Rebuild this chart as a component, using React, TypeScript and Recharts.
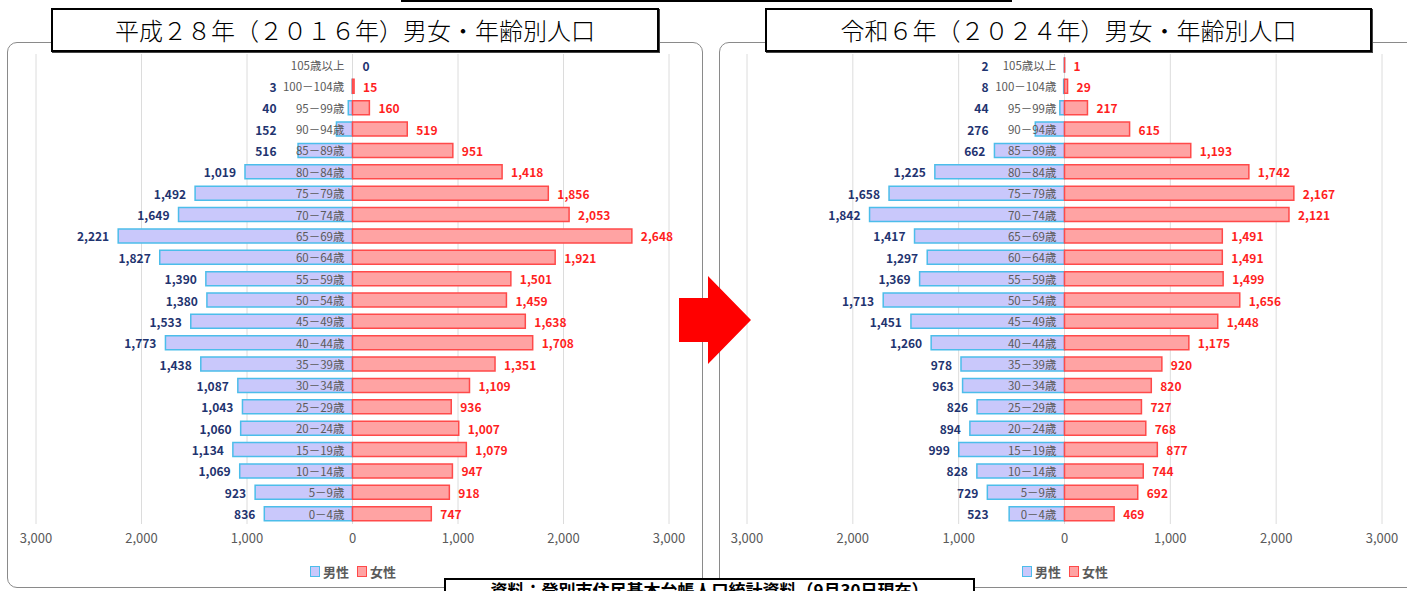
import { Bar, BarChart, CartesianGrid, Cell, LabelList, XAxis, YAxis } from "recharts"

const ages = [
  "105歳以上", "100－104歳", "95－99歳", "90－94歳", "85－89歳", "80－84歳",
  "75－79歳", "70－74歳", "65－69歳", "60－64歳", "55－59歳", "50－54歳",
  "45－49歳", "40－44歳", "35－39歳", "30－34歳", "25－29歳", "20－24歳",
  "15－19歳", "10－14歳", "5－9歳", "0－4歳",
]

const male2016 = [0, 3, 40, 152, 516, 1019, 1492, 1649, 2221, 1827, 1390, 1380, 1533, 1773, 1438, 1087, 1043, 1060, 1134, 1069, 923, 836]
const female2016 = [0, 15, 160, 519, 951, 1418, 1856, 2053, 2648, 1921, 1501, 1459, 1638, 1708, 1351, 1109, 936, 1007, 1079, 947, 918, 747]

const male2024 = [2, 8, 44, 276, 662, 1225, 1658, 1842, 1417, 1297, 1369, 1713, 1451, 1260, 978, 963, 826, 894, 999, 828, 729, 523]
const female2024 = [1, 29, 217, 615, 1193, 1742, 2167, 2121, 1491, 1491, 1499, 1656, 1448, 1175, 920, 820, 727, 768, 877, 744, 692, 469]

const xTicks = [-3000, -2000, -1000, 0, 1000, 2000, 3000]

const FONT = '"Noto Sans CJK JP", "Noto Sans", sans-serif'
const MALE_FILL = "#c9c8fb"
const MALE_STROKE = "#4cbdea"
const FEMALE_FILL = "#ffa3a3"
const FEMALE_STROKE = "#ff4a4a"

function box(p: any) {
  const vb = p.viewBox ?? p
  const l = Math.min(vb.x, vb.x + vb.width)
  const r = Math.max(vb.x, vb.x + vb.width)
  return { l, r, cy: vb.y + vb.height / 2 }
}

const AgeLabel = (p: any) => {
  const { l, r, cy } = box(p)
  // zero-size bars get a tiny positive width, so the zero line is at l for them
  const zero = r - l < 0.5 ? l : r
  return (
    <text x={zero - 8} y={cy} dominantBaseline="central" textAnchor="end" fontSize={11.5} fill="#5a5a5a" fontFamily={FONT}>
      {p.value}
    </text>
  )
}

const MaleValue = (p: any) => {
  const { l, r, cy } = box(p)
  const v = Number(p.value)
  if (v === 0) {
    return (
      <text x={l + 10} y={cy} dominantBaseline="central" fontSize={12} fontWeight={700} fill="#1f3470" fontFamily={FONT}>
        0
      </text>
    )
  }
  return (
    <text x={Math.min(l - 9, r - 76)} y={cy} dominantBaseline="central" textAnchor="end" fontSize={12} fontWeight={700} fill="#1f3470" fontFamily={FONT}>
      {v.toLocaleString("en-US")}
    </text>
  )
}

const FemaleValue = (p: any) => {
  const { r, cy } = box(p)
  const v = Number(p.value)
  if (v === 0) return null
  return (
    <text x={r + 9} y={cy} dominantBaseline="central" fontSize={12} fontWeight={700} fill="#ff1f1f" fontFamily={FONT}>
      {v.toLocaleString("en-US")}
    </text>
  )
}

function Pyramid({ male, female, left, rightMargin }: { male: number[]; female: number[]; left: number; rightMargin: number }) {
  const rows = ages.map((age, i) => ({
    age,
    male: -male[i],
    maleAbs: male[i],
    female: female[i],
  }))

  return (
    <div style={{ position: "absolute", left, top: 0 }}>
      <BarChart
        width={700}
        height={560}
        data={rows}
        layout="vertical"
        stackOffset="sign"
        barSize={14}
        margin={{ top: 54, right: rightMargin, bottom: 6, left: 36 }}
      >
        <CartesianGrid horizontal={false} stroke="#dcdcdc" />
        <XAxis
          type="number"
          domain={[-3000, 3000]}
          ticks={xTicks}
          interval={0}
          height={30}
          axisLine={false}
          tickLine={false}
          tick={{ fill: "#5a5a5a", fontSize: 13, fontFamily: FONT, dy: 2 }}
          tickFormatter={(v) => Math.abs(v).toLocaleString("en-US")}
        />
        <YAxis type="category" dataKey="age" hide width={0} />
        <Bar dataKey="male" stackId="a" fill={MALE_FILL} stroke={MALE_STROKE} strokeWidth={1.5} minPointSize={0.1} isAnimationActive={false}>
          {rows.map((r, i) => (
            <Cell key={i} fillOpacity={r.maleAbs === 0 ? 0 : 1} strokeOpacity={r.maleAbs === 0 ? 0 : 1} />
          ))}
          <LabelList dataKey="age" content={AgeLabel} />
          <LabelList dataKey="maleAbs" content={MaleValue} />
        </Bar>
        <Bar dataKey="female" stackId="a" fill={FEMALE_FILL} stroke={FEMALE_STROKE} strokeWidth={1.5} isAnimationActive={false}>
          {rows.map((r, i) => (
            <Cell key={i} fillOpacity={r.female === 0 ? 0 : 1} strokeOpacity={r.female === 0 ? 0 : 1} />
          ))}
          <LabelList dataKey="female" content={FemaleValue} />
        </Bar>
      </BarChart>
    </div>
  )
}

function LegendRow({ center }: { center: number }) {
  const item = (fill: string, stroke: string, label: string) => (
    <span style={{ display: "inline-flex", alignItems: "center", marginRight: 8 }}>
      <span style={{ width: 8, height: 9, background: fill, border: `1.5px solid ${stroke}`, marginRight: 3 }} />
      <span>{label}</span>
    </span>
  )
  return (
    <div
      style={{
        position: "absolute",
        left: center - 60,
        width: 120,
        top: 562,
        textAlign: "center",
        fontFamily: FONT,
        fontSize: 13,
        fontWeight: 700,
        color: "#5a5a5a",
      }}
    >
      {item(MALE_FILL, MALE_STROKE, "男性")}
      {item(FEMALE_FILL, FEMALE_STROKE, "女性")}
    </div>
  )
}

const titleStyle = (left: number, width: number): React.CSSProperties => ({
  position: "absolute",
  left,
  top: 8,
  width,
  height: 40,
  border: "2px solid #000",
  background: "#fff",
  fontFamily: FONT,
  fontSize: 24,
  fontWeight: 300,
  lineHeight: "40px",
  textAlign: "center",
  color: "#000",
  boxShadow: "1px 1px 0 #444",
})

export default function App() {
  return (
    <div style={{ position: "absolute", left: 0, top: 0, width: 1407, height: 591, overflow: "hidden", background: "#fff" }}>
      <div style={{ position: "absolute", left: 401, top: -20, width: 611, height: 22, border: "2px solid #000", boxSizing: "border-box" }} />

      <div style={{ position: "absolute", left: 7, top: 42, width: 696, height: 546, border: "1px solid #8a8a8a", borderRadius: 10, boxSizing: "border-box" }} />
      <div style={{ position: "absolute", left: 719, top: 42, width: 720, height: 546, border: "1px solid #8a8a8a", borderRadius: 10, boxSizing: "border-box" }} />

      <Pyramid male={male2016} female={female2016} left={0} rightMargin={31} />
      <Pyramid male={male2024} female={female2024} left={711} rightMargin={29} />

      <LegendRow center={357} />
      <LegendRow center={1069} />

      <div style={titleStyle(51, 604)}>平成２８年（２０１６年）男女・年齢別人口</div>
      <div style={titleStyle(765, 603)}>令和６年（２０２４年）男女・年齢別人口</div>

      <svg style={{ position: "absolute", left: 0, top: 0 }} width={1407} height={591}>
        <polygon points="679,298 708,298 708,276 751,320 708,364 708,342 679,342" fill="#ff0000" />
      </svg>

      <div
        style={{
          position: "absolute",
          left: 444,
          top: 578,
          width: 531,
          height: 40,
          border: "2px solid #000",
          background: "#fff",
          boxSizing: "border-box",
          fontFamily: FONT,
          fontSize: 17,
          fontWeight: 700,
          textAlign: "center",
          lineHeight: "20px",
          paddingTop: 0,
        }}
      >
        資料：登別市住民基本台帳人口統計資料（9月30日現在）
      </div>
    </div>
  )
}
